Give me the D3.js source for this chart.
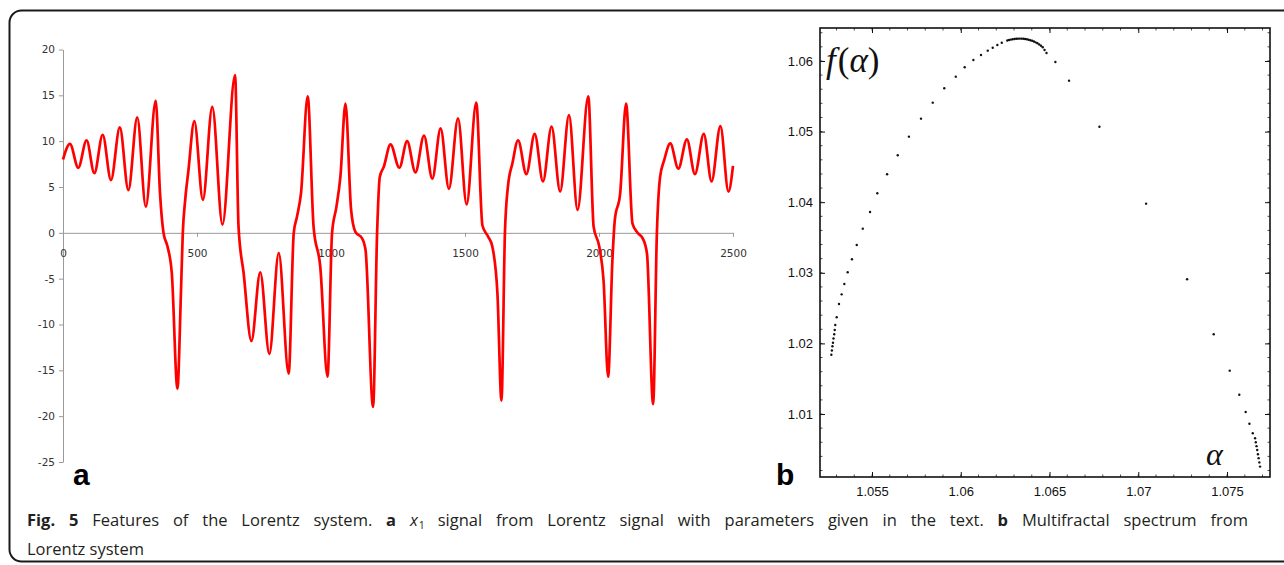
<!DOCTYPE html>
<html>
<head>
<meta charset="utf-8">
<script src="https://cdn.jsdelivr.net/npm/d3@7"></script>
<style>
  body { margin: 0; background: #fff; }
  svg { display: block; }
</style>
</head>
<body>
<svg id="fig" width="1284" height="565"></svg>
<script>
// ---- panel a : x1 signal of the Lorentz system (extrema and shape points) ----
const sigT = [0, 26, 57, 88, 117, 148, 179, 212, 244, 277, 309, 346, 362, 375, 390, 406, 427, 440, 447, 456,
  468, 490, 522, 557, 595, 642, 655, 674, 703, 736, 770, 805, 842, 861, 873, 888, 913, 935, 960, 987,
  1004, 1020, 1035, 1054, 1075, 1091, 1116, 1129, 1157, 1172, 1182, 1197, 1222, 1255, 1284, 1315, 1347, 1378, 1409, 1440,
  1474, 1506, 1542, 1565, 1586, 1602, 1621, 1636, 1649, 1660, 1677, 1698, 1729, 1760, 1791, 1823, 1855, 1888, 1920, 1960,
  1980, 2001, 2017, 2034, 2050, 2059, 2079, 2101, 2125, 2144, 2163, 2179, 2202, 2216, 2228, 2243, 2266, 2296, 2328, 2358,
  2391, 2420, 2453, 2483, 2500];
const sigX = [8.0, 9.7, 7.1, 10.1, 6.5, 10.7, 5.75, 11.5, 4.66, 12.6, 2.85, 14.4, 4.3, 0, -1.5, -4.4, -17.0, -6.6, 0, 3.6,
  6.8, 12.2, 3.6, 13.75, 0.9, 17.2, 0.65, -4.4, -11.8, -4.3, -13.2, -2.2, -15.35, 0, 1.75, 4.3, 14.9, 0.65, -3.7, -15.7,
  0, 2.8, 6.1, 14.1, 2.5, 0.1, -0.6, -1.9, -19.0, 0, 6.1, 7.2, 9.65, 7.1, 10.0, 6.6, 10.6, 5.9, 11.4, 4.8,
  12.5, 3.1, 14.2, 0.8, -0.4, -1.5, -6.6, -18.3, 0, 5.0, 7.6, 10.1, 6.4, 10.8, 5.6, 11.6, 4.5, 12.85, 2.5, 14.9,
  0.65, -1.5, -5.2, -15.7, -3.0, 1.4, 4.3, 14.1, 1.0, 0, -0.6, -2.25, -18.7, 0, 6.1, 7.9, 9.75, 7.0, 10.2, 6.4,
  10.8, 5.6, 11.65, 4.5, 7.3];
const sigTTicks = [0, 500, 1000, 1500, 2000, 2500];
const sigXTicks = [20, 15, 10, 5, 0, -5, -10, -15, -20, -25];

// ---- panel b : multifractal spectrum f(alpha) ----
const alphaVals = [
  1.05271, 1.05274, 1.05277, 1.05280, 1.05283, 1.05287, 1.05290, 1.05293, 1.05301,
  1.05314, 1.05329, 1.05344, 1.05363, 1.05387, 1.05414, 1.05448, 1.05489, 1.05530, 1.05585,
  1.05645, 1.05708, 1.05776, 1.05842, 1.05907, 1.05972, 1.06022, 1.06071, 1.06114, 1.06152,
  1.06180, 1.06206, 1.06231,
  1.06262, 1.06272, 1.06282, 1.06292, 1.06302, 1.06312, 1.06322, 1.06332, 1.06342, 1.06352,
  1.06362, 1.06372, 1.06382, 1.06392, 1.06402, 1.06412, 1.06422, 1.06432, 1.06442, 1.06452,
  1.06462, 1.06472, 1.06483,
  1.06533, 1.06610, 1.06781, 1.07044, 1.07275, 1.07425, 1.07515, 1.07569, 1.07605, 1.07626, 1.07645,
  1.07658, 1.07662, 1.07666, 1.07670, 1.07674, 1.07678, 1.07682, 1.07686];
const fVals = [
  1.01840, 1.01900, 1.01960, 1.02010, 1.02070, 1.02130, 1.02190, 1.02260, 1.02370,
  1.02558, 1.02695, 1.02841, 1.03007, 1.03191, 1.03394, 1.03625, 1.03861, 1.04126, 1.04395,
  1.04664, 1.04928, 1.05183, 1.05410, 1.05613, 1.05778, 1.05911, 1.06014, 1.06085, 1.06146,
  1.06188, 1.06227, 1.06259,
  1.06290, 1.06297, 1.06303, 1.06308, 1.06311, 1.06314, 1.06316, 1.06317, 1.06316, 1.06314,
  1.06311, 1.06307, 1.06301, 1.06294, 1.06286, 1.06276, 1.06264, 1.06250, 1.06234, 1.06216,
  1.06195, 1.06155, 1.06112,
  1.05986, 1.05721, 1.05069, 1.03979, 1.02908, 1.02129, 1.01614, 1.01273, 1.01028, 1.00862, 1.00727,
  1.00656, 1.00600, 1.00545, 1.00490, 1.00430, 1.00375, 1.00315, 1.00255];
const alphaTicks = [1.055, 1.06, 1.065, 1.07, 1.075];
const fTicks = [1.01, 1.02, 1.03, 1.04, 1.05, 1.06];

// ---- caption ----
const capLine1 = ["**Fig.", "**5", "Features", "of", "the", "Lorentz", "system.", "**a", "x_1", "signal", "from",
  "Lorentz", "signal", "with", "parameters", "given", "in", "the", "text.", "**b", "Multifractal", "spectrum", "from"];
const capLine2 = ["Lorentz", "system"];

const svg = d3.select("#fig");

// outer figure box (right edge runs off the picture)
svg.append("rect")
  .attr("x", 9.5).attr("y", 10.5)
  .attr("width", 1320).attr("height", 551)
  .attr("rx", 12)
  .attr("fill", "none").attr("stroke", "#1a1a1a").attr("stroke-width", 2);

// ================= panel a =================
const xA = d3.scaleLinear().domain([0, 2500]).range([63, 733]);
const yA = d3.scaleLinear().domain([-25, 20]).range([462, 49.5]);
const gA = svg.append("g");

function styleAxisA(g) {
  g.select(".domain").attr("stroke", "#9a9a9a");
  g.selectAll(".tick line").attr("stroke", "#9a9a9a");
  g.selectAll(".tick text")
    .attr("fill", "#333")
    .attr("font-family", "'DejaVu Sans', Verdana, sans-serif")
    .attr("font-size", 10.5);
}

gA.append("g")
  .attr("transform", "translate(63,0)")
  .call(d3.axisLeft(yA).tickValues(sigXTicks).tickSize(4).tickSizeOuter(0).tickPadding(4)
    .tickFormat(d => String(d)))
  .call(styleAxisA);

gA.append("g")
  .attr("transform", `translate(0,${yA(0)})`)
  .call(d3.axisBottom(xA).tickValues(sigTTicks).tickSize(4).tickSizeOuter(0).tickPadding(13)
    .tickFormat(d => String(d)))
  .call(styleAxisA);

const sig = sigT.map((t, i) => ({ t: t, v: sigX[i] }));
gA.append("path")
  .datum(sig)
  .attr("fill", "none")
  .attr("stroke", "#ff0000")
  .attr("stroke-width", 2.7)
  .attr("stroke-linejoin", "round")
  .attr("d", d3.line().x(d => xA(d.t)).y(d => yA(d.v)).curve(d3.curveMonotoneX));

gA.append("text")
  .attr("x", 73).attr("y", 485)
  .attr("font-family", "'Liberation Sans', Arial, sans-serif")
  .attr("font-weight", "bold").attr("font-size", 30)
  .attr("fill", "#000")
  .text("a");

// ================= panel b =================
const xB = d3.scaleLinear().domain([1.05207, 1.07742]).range([820, 1270]);
const yB = d3.scaleLinear().domain([1.00108, 1.06467]).range([477, 28]);
const gB = svg.append("g");
const fontB = "'Liberation Sans', Arial, sans-serif";

// minor ticks on all four sides
const minorX = xB.ticks(25), minorY = yB.ticks(32);
[["b", 477, 1], ["t", 28, -1]].forEach(([k, y0, dir]) => {
  gB.append("g").selectAll("line").data(minorX).join("line")
    .attr("x1", d => xB(d)).attr("x2", d => xB(d))
    .attr("y1", y0).attr("y2", y0 - dir * 2.5)
    .attr("stroke", "#222").attr("stroke-width", 0.8);
});
[["l", 820, 1], ["r", 1270, -1]].forEach(([k, x0, dir]) => {
  gB.append("g").selectAll("line").data(minorY).join("line")
    .attr("x1", x0).attr("x2", x0 + dir * 2.5)
    .attr("y1", d => yB(d)).attr("y2", d => yB(d))
    .attr("stroke", "#222").attr("stroke-width", 0.8);
});

function styleAxisB(g) {
  g.select(".domain").remove();
  g.selectAll(".tick line").attr("stroke", "#111").attr("stroke-width", 1);
  g.selectAll(".tick text").attr("fill", "#111").attr("font-family", fontB).attr("font-size", 13);
}

gB.append("g").attr("transform", "translate(0,477)")
  .call(d3.axisBottom(xB).tickValues(alphaTicks).tickSize(-5).tickPadding(10).tickFormat(d => String(d)))
  .call(styleAxisB);
gB.append("g").attr("transform", "translate(0,28)")
  .call(d3.axisTop(xB).tickValues(alphaTicks).tickSize(-5).tickFormat(""))
  .call(styleAxisB);
gB.append("g").attr("transform", "translate(820,0)")
  .call(d3.axisLeft(yB).tickValues(fTicks).tickSize(-5).tickPadding(7).tickFormat(d => String(d)))
  .call(styleAxisB);
gB.append("g").attr("transform", "translate(1270,0)")
  .call(d3.axisRight(yB).tickValues(fTicks).tickSize(-5).tickFormat(""))
  .call(styleAxisB);

gB.append("rect")
  .attr("x", 820).attr("y", 28)
  .attr("width", 450).attr("height", 449)
  .attr("fill", "none").attr("stroke", "#111").attr("stroke-width", 1.6);

const spec = alphaVals.map((a, i) => ({ a: a, f: fVals[i] }));
gB.append("g").selectAll("circle")
  .data(spec).join("circle")
  .attr("cx", d => xB(d.a))
  .attr("cy", d => yB(d.f))
  .attr("r", 1.2)
  .attr("fill", "#111");

// axis annotations in Times-like italics
const fLab = gB.append("text")
  .attr("x", 826).attr("y", 72)
  .attr("font-family", "'Liberation Serif', 'Times New Roman', serif")
  .attr("font-size", 35).attr("fill", "#111");
fLab.append("tspan").attr("font-style", "italic").text("f");
fLab.append("tspan").attr("dx", 2).text("(");
fLab.append("tspan").attr("font-style", "italic").text("α");
fLab.append("tspan").text(")");

gB.append("text")
  .attr("x", 1206).attr("y", 465)
  .attr("font-family", "'Liberation Serif', 'Times New Roman', serif")
  .attr("font-style", "italic")
  .attr("font-size", 32).attr("fill", "#111")
  .text("α");

gB.append("text")
  .attr("x", 776).attr("y", 485)
  .attr("font-family", fontB)
  .attr("font-weight", "bold").attr("font-size", 30)
  .attr("fill", "#000")
  .text("b");

// ================= caption =================
const capFont = "'Open Sans', 'Noto Sans', sans-serif";
const capG = svg.append("g")
  .attr("font-family", capFont).attr("font-size", 16.5).attr("fill", "#231f20");

function addWord(g, w) {
  const t = g.append("text");
  if (w.startsWith("**")) {
    t.append("tspan").attr("font-weight", "bold").text(w.slice(2));
  } else if (w.includes("_")) {
    const [base, sub] = w.split("_");
    t.append("tspan").attr("font-style", "italic").text(base);
    t.append("tspan").attr("font-size", 10.5).attr("dy", 3).attr("dx", 1).text(sub);
  } else {
    t.text(w);
  }
  return t;
}

function layLine(words, y, x0, x1) {
  const nodes = words.map(w => addWord(capG, w).attr("y", y));
  const widths = nodes.map(n => n.node().getComputedTextLength());
  let gap = 4.3;
  if (x1 != null) {
    const total = d3.sum(widths);
    gap = (x1 - x0 - total) / (words.length - 1);
  }
  let x = x0;
  nodes.forEach((n, i) => { n.attr("x", x); x += widths[i] + gap; });
}

layLine(capLine1, 526, 27, 1248);
layLine(capLine2, 555, 27, null);
</script>
</body>
</html>
